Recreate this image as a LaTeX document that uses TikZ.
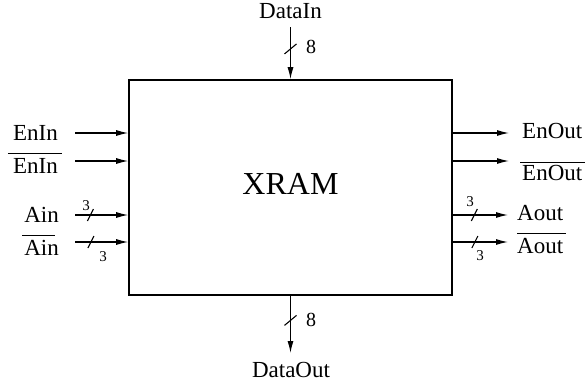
\documentclass[tikz,border=0pt]{standalone}
\usepackage{fontspec}
\setmainfont{Liberation Serif}
\usetikzlibrary{arrows.meta,calc}
\begin{document}
\begin{tikzpicture}[x=1pt,y=-1pt,
  sig/.style={line width=1.2pt,-{Latex[length=12pt,width=6pt]}},
  slash/.style={line width=1.1pt},
  lbl/.style={inner sep=0pt,font=\fontsize{23}{27}\selectfont},
  num/.style={inner sep=0pt,font=\fontsize{15}{18}\selectfont},
  bignum/.style={inner sep=0pt,font=\fontsize{20}{24}\selectfont},
  bar/.style={line width=1pt},
  blk/.style={draw,line width=1.6pt,minimum width=323pt,minimum height=215pt,inner sep=0pt}]
\useasboundingbox (0,0) rectangle (587,383);
% block
\node[blk] (ram) at (290.5,187.5) {};
\node[inner sep=0pt,font=\fontsize{32}{36}\selectfont,anchor=base] (title) at (290.5,194) {XRAM};
% left labels
\node[lbl,anchor=base east] (enin) at (58,140) {EnIn};
\node[lbl,anchor=base east] (eninb) at (58,173) {EnIn};
\node[lbl,anchor=base east] (ain) at (59,222) {Ain};
\node[lbl,anchor=base east] (ainb) at (59,255) {Ain};
% right labels
\node[lbl,anchor=base west] (enout) at (522,138) {EnOut};
\node[lbl,anchor=base west] (enoutb) at (522,180) {EnOut};
\node[lbl,anchor=base west] (aout) at (517,220) {Aout};
\node[lbl,anchor=base west] (aoutb) at (517,253) {Aout};
% top / bottom labels
\node[lbl,anchor=base] (datain) at (290.5,18) {DataIn};
\node[lbl,anchor=base] (dataout) at (291,377) {DataOut};
% overlines
\draw[bar] ([xshift=-5pt,yshift=20pt]eninb.base west) -- ([xshift=4pt,yshift=20pt]eninb.base east);
\draw[bar] ([xshift=-2pt,yshift=20pt]ainb.base west) -- ([xshift=-4pt,yshift=20pt]ainb.base east);
\draw[bar] ([xshift=-2pt,yshift=18pt]enoutb.base west) -- ([xshift=3pt,yshift=18pt]enoutb.base east);
\draw[bar] ([xshift=0pt,yshift=20pt]aoutb.base west) -- ([xshift=3pt,yshift=20pt]aoutb.base east);
% connector start/end coordinates
\coordinate (s1) at (75,133);
\coordinate (s2) at (75,161);
\coordinate (s3) at (75,215);
\coordinate (s4) at (75,242);
\coordinate (e1) at (509,133);
\coordinate (e2) at (509,161);
\coordinate (e3) at (508,215);
\coordinate (e4) at (508,242);
\coordinate (tin) at (290.5,27);
\coordinate (tout) at (290.5,353);
% left inputs
\draw[sig] (s1) -- (s1 -| ram.west);
\draw[sig] (s2) -- (s2 -| ram.west);
\draw[sig] (s3) -- coordinate[pos=0.29] (m3) (s3 -| ram.west);
\draw[sig] (s4) -- coordinate[pos=0.30] (m4) (s4 -| ram.west);
% right outputs
\draw[sig] (e1 -| ram.east) -- (e1);
\draw[sig] (e2 -| ram.east) -- (e2);
\draw[sig] (e3 -| ram.east) -- coordinate[pos=0.39] (m7) (e3);
\draw[sig] (e4 -| ram.east) -- coordinate[pos=0.40] (m8) (e4);
% data in / out
\draw[sig] (tin) -- coordinate[pos=0.42] (m9) (tin |- ram.north);
\draw[sig] (tout |- ram.south) -- coordinate[pos=0.43] (m10) (tout);
% bus slashes
\draw[slash] ([shift={(-3,6)}]m3) -- ([shift={(3,-6)}]m3);
\draw[slash] ([shift={(-3,6)}]m4) -- ([shift={(3,-6)}]m4);
\draw[slash] ([shift={(-3,6)}]m7) -- ([shift={(3,-6)}]m7);
\draw[slash] ([shift={(-3,6)}]m8) -- ([shift={(3,-6)}]m8);
\draw[slash] ([shift={(-6,5)}]m9) -- ([shift={(6,-5)}]m9);
\draw[slash] ([shift={(-6,5)}]m10) -- ([shift={(6,-5)}]m10);
% bus widths
\node[num] (w3) at (86,206) {3};
\node[num] (w4) at (103,257) {3};
\node[num] (w7) at (470,202) {3};
\node[num] (w8) at (480,256) {3};
\node[bignum] (w9) at (311,47) {8};
\node[bignum] (w10) at (311,320) {8};
\end{tikzpicture}
\end{document}
